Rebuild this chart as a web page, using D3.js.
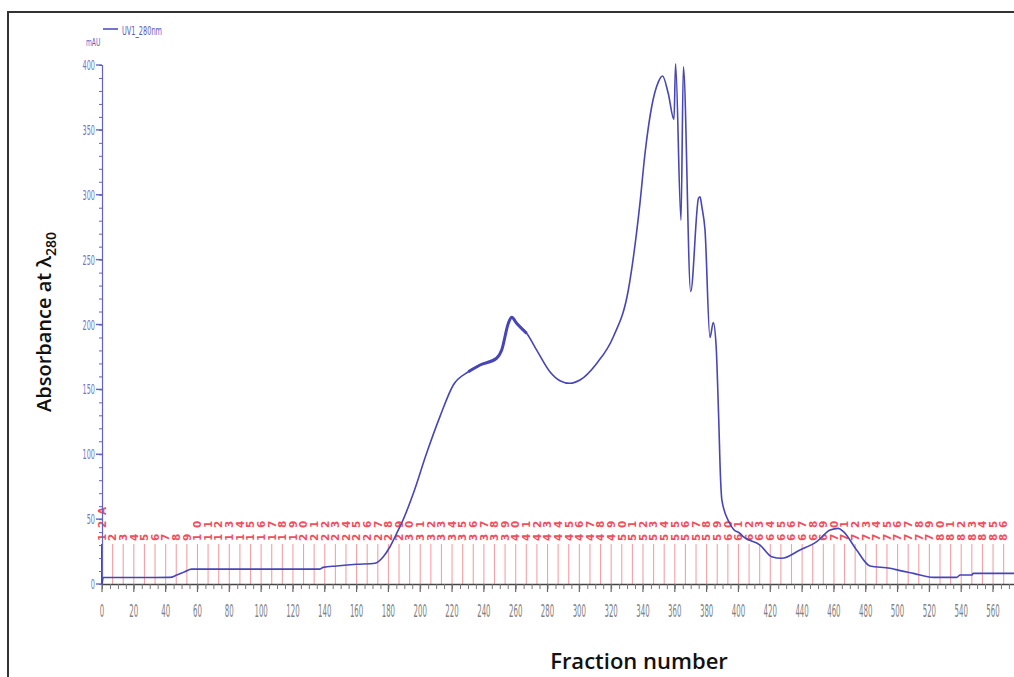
<!DOCTYPE html>
<html>
<head>
<meta charset="utf-8">
<script src="https://cdn.jsdelivr.net/npm/d3@7"></script>
<style>
  body { margin: 0; background: #fff; }
  svg { display: block; }
</style>
</head>
<body>
<div id="chart"></div>
<script>
var width = 1014;
var height = 677;

// elution volume (x) and UV absorbance in mAU (y)
var volume = [0, 0.8, 20, 42.7, 47, 52, 56.3, 100, 137, 139, 147.5, 160, 171.6, 176.8, 181, 185.2,
  188.3, 195.7, 204, 212.4, 220.8, 230.3, 237.6, 248, 251.2, 255.4, 257.5, 260.6, 266.9, 273.2,
  281.5, 287.8, 294.1, 300.4, 310.9, 321.4, 330.8, 338.1, 341.3, 345.5, 349.7, 352.3, 355.9,
  359.5, 360.5, 363.9, 365.4, 370, 374.9, 375.9, 377, 379, 382.1, 384.2, 386, 387.5, 388.8,
  389.6, 394, 397, 401, 403, 413.6, 420.9, 427.1, 438.7, 449.2, 457.6, 462.8, 466, 474.3,
  482.7, 495.3, 501.6, 510, 522.5, 537.2, 539.3, 546.6, 547.6, 573.2];
var absorbance = [0, 5, 5, 5.1, 6.9, 9.5, 11.5, 11.5, 11.5, 12.8, 13.9, 15.2, 16, 21, 28.7, 39,
  46.8, 69.9, 100.7, 129, 153.4, 163.6, 168.8, 174, 180.3, 201, 205.6, 201, 193.2, 180.3,
  163.6, 156.7, 154.7, 157.2, 170, 190.6, 226.6, 293.4, 332, 368, 387, 391.5, 378,
  358, 401, 280.5, 398.7, 225.3, 297.3, 298.5, 290.8, 272.8, 190, 201.5, 183, 131.6, 80,
  64.7, 48, 42, 39, 36.5, 30, 21, 19.8, 26.2, 32.6, 41.6, 42.9, 40.3, 26.2,
  13.9, 12.1, 10.3, 8.2, 5.1, 5.1, 6.9, 6.9, 8.2, 8.2];

// noisy (thicker) stretch of the trace
var noisyRange = [229, 270];

var xTicks = d3.range(0, 561, 20);
var yTicks = [0, 50, 100, 150, 200, 250, 300, 350, 400];

// fraction collector marks
var fractionVolume = 6.667;
var fractionLabels = d3.range(1, 87).map(String);
fractionLabels[0] = "12A";

var svg = d3.select('#chart')
  .append('svg')
    .attr('width', width)
    .attr('height', height);

var x = d3.scaleLinear().domain([0, 573.2]).range([102, 1014]);
var y = d3.scaleLinear().domain([0, 400]).range([584, 65]);

// frame
svg.append('path')
  .attr('d', 'M8,677 L8,12 L1014,12')
  .attr('fill', 'none')
  .attr('stroke', '#333')
  .attr('stroke-width', 2);

// fraction lines and labels
var frac = svg.append('g');
fractionLabels.forEach(function(lab, i) {
  var fx = x(i * fractionVolume);
  frac.append('line')
    .attr('x1', fx).attr('x2', fx)
    .attr('y1', 544).attr('y2', y(0))
    .attr('stroke', i == 0 ? '#d0104a' : '#f5a0a6')
    .attr('stroke-width', i == 0 ? 2 : 1.1);
  lab.split('').forEach(function(ch, j) {
    frac.append('text')
      .attr('transform', 'translate(' + (fx + 3.8) + ',' + (541 - j * 13) + ') rotate(-90)')
      .attr('font-family', 'DejaVu Sans, sans-serif')
      .attr('font-size', 10.5)
      .attr('font-weight', 'bold')
      .attr('fill', '#f0505e')
      .text(ch);
  });
});

// y axis
var yAxis = svg.append('g')
  .attr('transform', 'translate(' + x(0) + ',0)')
  .call(d3.axisLeft(y).tickValues(d3.range(0, 401, 10)).tickSize(3).tickFormat(''));
yAxis.selectAll('line').attr('stroke', '#6262c4');
yAxis.select('.domain').attr('stroke', '#6262c4').attr('stroke-width', 1.2);
svg.append('g').selectAll('line')
  .data(yTicks).join('line')
  .attr('x1', x(0) - 6).attr('x2', x(0))
  .attr('y1', d => y(d)).attr('y2', d => y(d))
  .attr('stroke', '#6262c4').attr('stroke-width', 1.4);
svg.append('g').selectAll('text')
  .data(yTicks).join('text')
  .attr('transform', d => 'translate(' + (x(0) - 7) + ',' + (y(d) + 5) + ') scale(0.5,1.1)')
  .attr('text-anchor', 'end')
  .attr('font-family', 'DejaVu Sans, sans-serif')
  .attr('font-size', 13)
  .attr('fill', '#7474c8')
  .text(d => d);

// x axis
var xAxis = svg.append('g')
  .attr('transform', 'translate(0,' + y(0) + ')')
  .call(d3.axisBottom(x).tickValues(d3.range(0, 573, 5)).tickSize(5).tickSizeOuter(0).tickFormat(''));
xAxis.selectAll('line').attr('stroke', '#777');
xAxis.select('.domain').attr('stroke', '#444').attr('stroke-width', 1.5);
svg.append('g').selectAll('line')
  .data(xTicks).join('line')
  .attr('x1', d => x(d)).attr('x2', d => x(d))
  .attr('y1', y(0)).attr('y2', y(0) + 8)
  .attr('stroke', '#666').attr('stroke-width', 1.2);
svg.append('g').selectAll('text')
  .data(xTicks).join('text')
  .attr('transform', d => 'translate(' + x(d) + ',617) scale(0.5,1.25)')
  .attr('text-anchor', 'middle')
  .attr('font-family', 'DejaVu Sans, sans-serif')
  .attr('font-size', 14)
  .attr('fill', '#808080')
  .text(d => d);

// UV trace
var pts = volume.map((v, i) => [v, absorbance[i]]);
var line = d3.line()
  .x(d => x(d[0]))
  .y(d => y(d[1]))
  .curve(d3.curveMonotoneX);
svg.append('path')
  .attr('d', line(pts))
  .attr('fill', 'none')
  .attr('stroke', '#4646b8')
  .attr('stroke-width', 1.6);
svg.append('path')
  .attr('d', line(pts.filter(d => d[0] >= noisyRange[0] && d[0] <= noisyRange[1])))
  .attr('fill', 'none')
  .attr('stroke', '#4646b8')
  .attr('stroke-width', 3);

// legend
svg.append('text')
  .attr('transform', 'translate(86,46) scale(0.6,1.1)')
  .attr('font-family', 'DejaVu Sans, sans-serif')
  .attr('font-size', 10)
  .attr('fill', '#5a5abf')
  .text('mAU');
svg.append('line')
  .attr('x1', 103).attr('x2', 118).attr('y1', 29).attr('y2', 29)
  .attr('stroke', '#4646b8').attr('stroke-width', 1.5);
svg.append('text')
  .attr('transform', 'translate(122,35) scale(0.6,1.1)')
  .attr('font-family', 'DejaVu Sans, sans-serif')
  .attr('font-size', 11)
  .attr('fill', '#5a5abf')
  .text('UV1_280nm');

// axis titles
svg.append('text')
  .attr('x', 639).attr('y', 669)
  .attr('text-anchor', 'middle')
  .attr('font-family', 'Open Sans, sans-serif')
  .attr('font-weight', 600)
  .attr('font-size', 22)
  .attr('fill', '#111')
  .text('Fraction number');

var yt = svg.append('text')
  .attr('transform', 'translate(51,322) rotate(-90)')
  .attr('text-anchor', 'middle')
  .attr('font-family', 'Open Sans, sans-serif')
  .attr('font-weight', 600)
  .attr('font-size', 20)
  .attr('fill', '#111');
yt.append('tspan').text('Absorbance at λ');
yt.append('tspan').attr('font-size', 14).attr('dy', 5).text('280');
</script>
</body>
</html>
